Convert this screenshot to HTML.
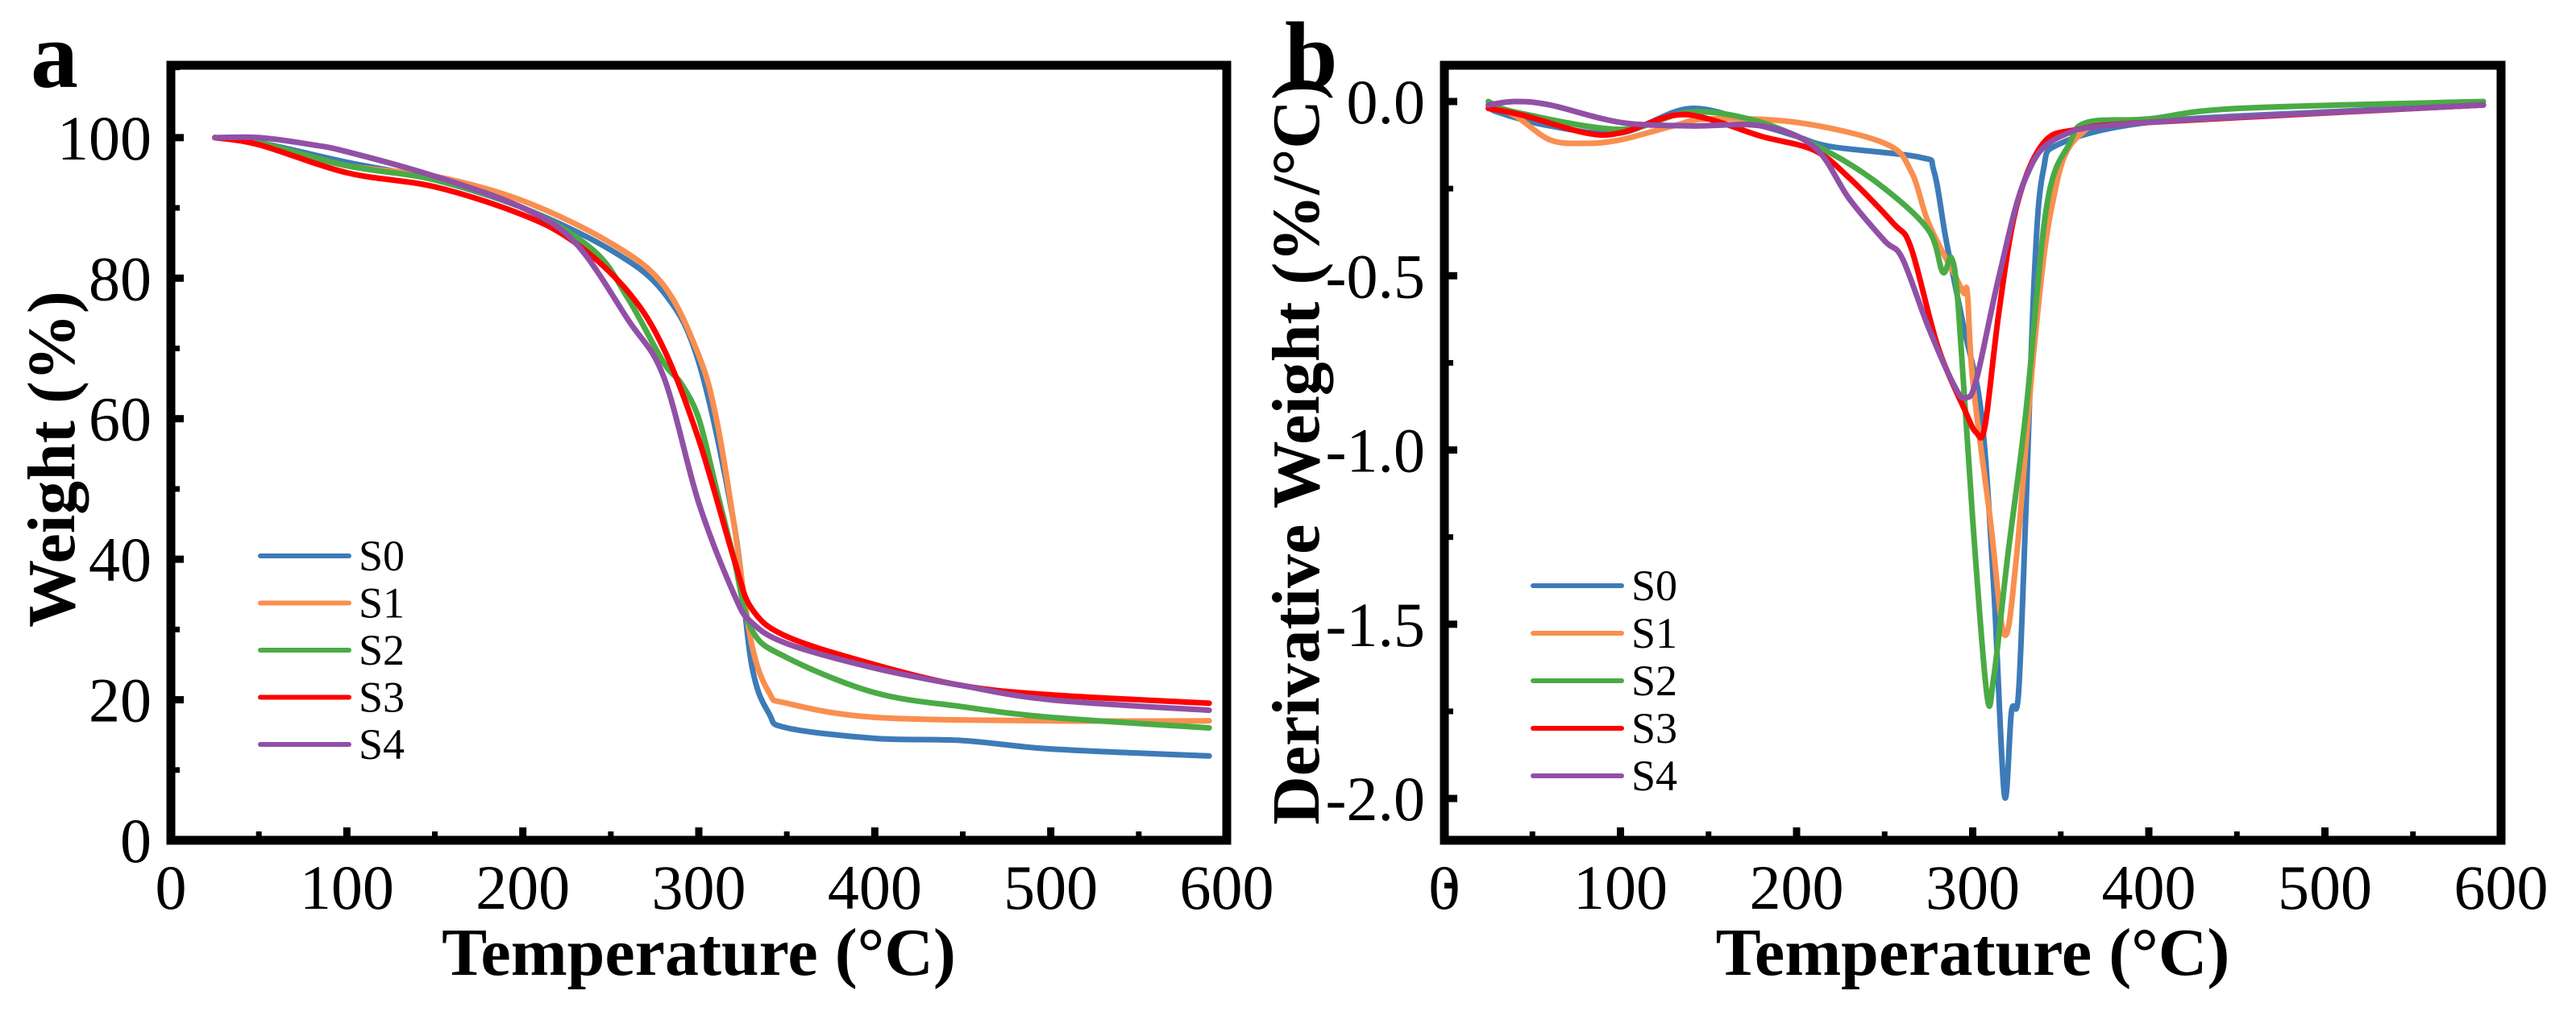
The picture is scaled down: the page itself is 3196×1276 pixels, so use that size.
<!DOCTYPE html>
<html><head><meta charset="utf-8"><style>
html,body{margin:0;padding:0;background:#fff;}
svg{display:block;font-family:"Liberation Serif",serif;}
</style></head><body>
<svg id="fig" width="3196" height="1276" viewBox="0 0 3196 1276" xmlns="http://www.w3.org/2000/svg"></svg>
<script>
const names = ['S0','S1','S2','S3','S4'];
const colors = ['#3d7bb8','#f98f4f','#4aab45','#ff0000','#9150a6'];
const xTicks = [0,100,200,300,400,500,600];
const aYTicks = [0,20,40,60,80,100];
const bYTicks = [0,-0.5,-1.0,-1.5,-2.0];
const bYLabels = ['0.0','-0.5','-1.0','-1.5','-2.0'];
// Panel a: TGA weight (%)
const aT0 = [25,50,100,150,200,250,280,300,320,330,340,350,400,450,500,590];
const aW0 = [100,99.3,96.5,94,90,84,78,68,45,25,18,16,14.5,14.2,13,12];
const aT1 = [25,50,100,150,200,250,280,300,310,320,330,340,350,400,500,590];
const aW1 = [100,99.3,96,94.5,91,85,79,69,60,45,28,21,19.5,17.5,17,17];
const aT2 = [25,50,100,150,200,240,260,280,290,300,310,320,330,350,400,450,500,590];
const aW2 = [100,99.3,96,94,90,84,77,68,65,60,50,40,30,26,21,19,17.5,16];
const aT3 = [25,50,100,150,200,230,260,280,300,320,330,350,400,450,500,590];
const aW3 = [100,99,95,93,89,85,78,70,57,40,33,29,25,22,20.7,19.5];
const aT4 = [25,50,80,100,150,200,230,260,280,300,320,330,350,400,450,500,590];
const aW4 = [100,100,99,98,94.5,90,85,74,66,48,35,31,28,24.5,22,20,18.5];
// Panel b: DTG (%/°C)
const bT0 = [25,30,60,100,140,180,200,220,270,278,285,295,305,312,318,322,326,330,335,340,350,400,500,590];
const bD0 = [-0.01,-0.03,-0.07,-0.09,-0.02,-0.07,-0.1,-0.13,-0.16,-0.2,-0.4,-0.65,-0.9,-1.4,-1.99,-1.75,-1.7,-1.2,-0.5,-0.2,-0.12,-0.06,-0.03,-0.01];
const bT1 = [25,40,60,80,100,130,150,200,250,265,275,290,295,297,300,310,318,325,335,345,360,400,590];
const bD1 = [-0.01,-0.04,-0.11,-0.12,-0.11,-0.07,-0.05,-0.06,-0.12,-0.2,-0.35,-0.5,-0.55,-0.55,-0.8,-1.2,-1.53,-1.3,-0.7,-0.3,-0.1,-0.06,-0.01];
const bT2 = [25,40,100,140,180,220,250,275,283,288,292,300,308,312,320,330,342,355,365,400,450,590];
const bD2 = [0,-0.03,-0.08,-0.03,-0.06,-0.15,-0.25,-0.37,-0.49,-0.45,-0.6,-1.2,-1.7,-1.65,-1.3,-0.9,-0.3,-0.12,-0.06,-0.05,-0.02,0];
const bT3 = [25,45,80,100,130,150,180,210,230,255,265,280,295,302,307,315,325,340,360,400,590];
const bD3 = [-0.02,-0.04,-0.09,-0.09,-0.04,-0.05,-0.1,-0.14,-0.22,-0.35,-0.42,-0.7,-0.88,-0.95,-0.93,-0.6,-0.3,-0.12,-0.08,-0.06,-0.01];
const bT4 = [25,40,60,100,140,180,210,230,250,260,275,290,296,302,315,330,350,400,590];
const bD4 = [-0.01,0,-0.01,-0.06,-0.07,-0.07,-0.13,-0.28,-0.4,-0.45,-0.65,-0.82,-0.85,-0.8,-0.5,-0.22,-0.1,-0.06,-0.01];

const svg = document.getElementById('fig');
const NS = 'http://www.w3.org/2000/svg';
function mk(tag, attrs, parent){const e=document.createElementNS(NS,tag);for(const k in attrs)e.setAttribute(k,attrs[k]);(parent||svg).appendChild(e);return e;}
function smoothPath(p){
  let d='M'+p[0][0].toFixed(1)+','+p[0][1].toFixed(1);
  for(let i=0;i<p.length-1;i++){
    const p0=p[Math.max(0,i-1)],p1=p[i],p2=p[i+1],p3=p[Math.min(p.length-1,i+2)];
    const c1x=p1[0]+(p2[0]-p0[0])/6,c1y=p1[1]+(p2[1]-p0[1])/6;
    const c2x=p2[0]-(p3[0]-p1[0])/6,c2y=p2[1]-(p3[1]-p1[1])/6;
    d+=' C'+c1x.toFixed(1)+','+c1y.toFixed(1)+' '+c2x.toFixed(1)+','+c2y.toFixed(1)+' '+p2[0].toFixed(1)+','+p2[1].toFixed(1);
  }
  return d;
}

function panel(cfg){
  const g = mk('g',{});
  
  
  const sx = v => cfg.x0 + (v-0)/(600)*(cfg.x1-cfg.x0);
  const sy = v => cfg.yb + (v-cfg.ymin)/(cfg.ymax-cfg.ymin)*(cfg.yt-cfg.yb);
  cfg.series.forEach((s,i)=>{
    const pts = s[0].map((t,j)=>[sx(t),sy(s[1][j])]);
    const pl = mk('path',{d:smoothPath(pts),fill:'none',stroke:colors[i],'stroke-width':7,'stroke-linejoin':'round','stroke-linecap':'round'},g);
    
    
  });
  const fr = mk('rect',{x:cfg.x0,y:cfg.yt,width:cfg.x1-cfg.x0,height:cfg.yb-cfg.yt,fill:'none',stroke:'#000','stroke-width':11},g);
  
  
  xTicks.forEach((t,i)=>{
    mk('line',{x1:sx(t),x2:sx(t),y1:cfg.yb,y2:cfg.yb-16,stroke:'#000','stroke-width':9},g);
    if(i<xTicks.length-1) mk('line',{x1:sx(t+50),x2:sx(t+50),y1:cfg.yb,y2:cfg.yb-11,stroke:'#000','stroke-width':7},g);
    const tx = mk('text',{x:sx(t),y:cfg.yb+85,'font-size':78,'text-anchor':'middle'},g);
    tx.textContent = t;
    
    
  });
  cfg.yTicks.forEach((v,i)=>{
    mk('line',{x1:cfg.x0,x2:cfg.x0+16,y1:sy(v),y2:sy(v),stroke:'#000','stroke-width':9},g);
    const mv = v + cfg.minorStep;
    if(mv < cfg.ymax) mk('line',{x1:cfg.x0,x2:cfg.x0+11,y1:sy(mv),y2:sy(mv),stroke:'#000','stroke-width':7},g);
    const tl = mk('text',{x:cfg.x0-24,y:sy(v)+27,'font-size':78,'text-anchor':'end'},g);
    tl.textContent = cfg.yLabels[i];
    
    
  });
  const xt = mk('text',{x:(cfg.x0+cfg.x1)/2,y:1210,'font-size':84,'font-weight':'bold','text-anchor':'middle'},g);
  xt.textContent = 'Temperature (°C)';
  
  
  const yt = mk('text',{x:0,y:0,'font-size':84,'font-weight':'bold','text-anchor':'middle',transform:'translate('+cfg.ytx+','+cfg.yty+') rotate(-90)'},g);
  yt.textContent = cfg.ytitle;
  
  
  const lb = mk('text',{x:cfg.lx,y:108,'font-size':118,'font-weight':'bold'},g);
  lb.textContent = cfg.id;
  
  
  names.forEach((n,i)=>{
    const yy = cfg.legY + i*cfg.legDy;
    const ln = mk('line',{x1:cfg.legX,x2:cfg.legX+110,y1:yy,y2:yy,stroke:colors[i],'stroke-width':6,'stroke-linecap':'round'},g);
    
    
    const lt = mk('text',{x:cfg.legX+122,y:yy+18,'font-size':54},g);
    lt.textContent = n;
    
    
  });
}

panel({id:'a',x0:212,x1:1522,yt:81,yb:1043,ymin:0,ymax:110.3,yTicks:aYTicks,yLabels:aYTicks.map(String),minorStep:10,
  series:[[aT0,aW0],[aT1,aW1],[aT2,aW2],[aT3,aW3],[aT4,aW4]],
  ytitle:'Weight (%)',ytx:92,yty:570,lx:38,legX:323,legY:690,legDy:58.5});
panel({id:'b',x0:1792,x1:3103,yt:81,yb:1043,ymin:-2.12,ymax:0.104,yTicks:bYTicks,yLabels:bYLabels,minorStep:-0.25,
  series:[[bT0,bD0],[bT1,bD1],[bT2,bD2],[bT3,bD3],[bT4,bD4]],
  ytitle:'Derivative Weight (%/°C)',ytx:1636,yty:560,lx:1594,legX:1902,legY:727,legDy:59});
</script>
</body></html>
